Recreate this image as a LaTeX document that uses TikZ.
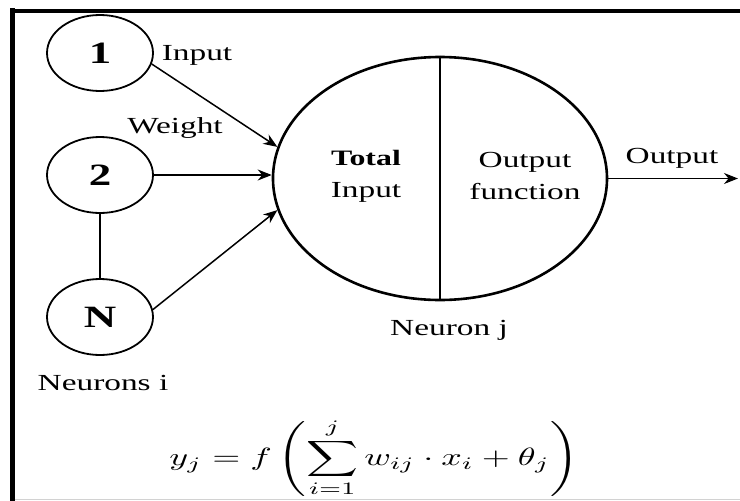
\documentclass[tikz,border=0pt]{standalone}
\usepackage{fontspec}
\setmainfont{Liberation Serif}[FakeStretch=1.45]
\usetikzlibrary{shapes.geometric,arrows.meta}
\begin{document}
\begin{tikzpicture}[x=1pt,y=-1pt,
  lbl/.style={inner sep=0pt,font=\fontsize{23}{32}\selectfont},
  small/.style={ellipse,draw,line width=1.8pt,minimum width=106pt,minimum height=76pt,inner sep=0pt,font=\fontsize{31}{34}\selectfont\bfseries},
  big/.style={ellipse,draw,line width=2.6pt,minimum width=334pt,minimum height=243pt,inner sep=0pt},
  conn/.style={line width=1.5pt,-{Stealth[length=14pt,width=11pt]}},
  plain/.style={line width=1.8pt}]
\useasboundingbox (0,0) rectangle (740,501);
\fill[white] (0,0) rectangle (740,501);
% frame
\draw[line width=5pt] (12.5,8) -- (12.5,501);
\draw[line width=4pt] (10,10.5) -- (740,10.5);
\draw[gray!35,line width=1pt] (15,499) -- (740,499);
% input neurons
\node[small] (n1) at (100,53) {1};
\node[small] (n2) at (100,175) {2};
\node[small] (nN) at (100,317) {N};
% neuron j
\node[big] (nj) at (440,178.5) {};
\draw[plain] (nj.north) -- (nj.south);
\node[lbl,align=center] (tot) at (366,176) {{\fontsize{22}{32}\selectfont\bfseries Total}\\Input};
\node[lbl,align=center] (ofn) at (525,176) {Output\\function};
% connectors
\draw[plain] (n2.south) -- (nN.north);
\draw[conn] (n1.-12) -- (nj.169);
\draw[conn] (n2.east) -- (n2.east -| nj.west);
\draw[conn] (nN.8) -- (nj.191);
\coordinate (out) at (738,178.5);
\draw[conn] (nj.east) -- (out);
% labels
\node[lbl] (linput) at (197,55) {Input};
\node[lbl] (lweight) at (175,128) {Weight};
\node[lbl] (lout) at (672,158) {Output};
\node[lbl] (lnj) at (449,330) {Neuron j};
\node[lbl] (lni) at (103,383) {Neurons i};
% formula
\node[inner sep=0pt] (eq) at (374,458) {\scalebox{3.6}[2.5]{$\displaystyle y_j = f\left(\sum_{i=1}^{j} w_{ij}\cdot x_i+\theta_j\right)$}};
\end{tikzpicture}
\end{document}
